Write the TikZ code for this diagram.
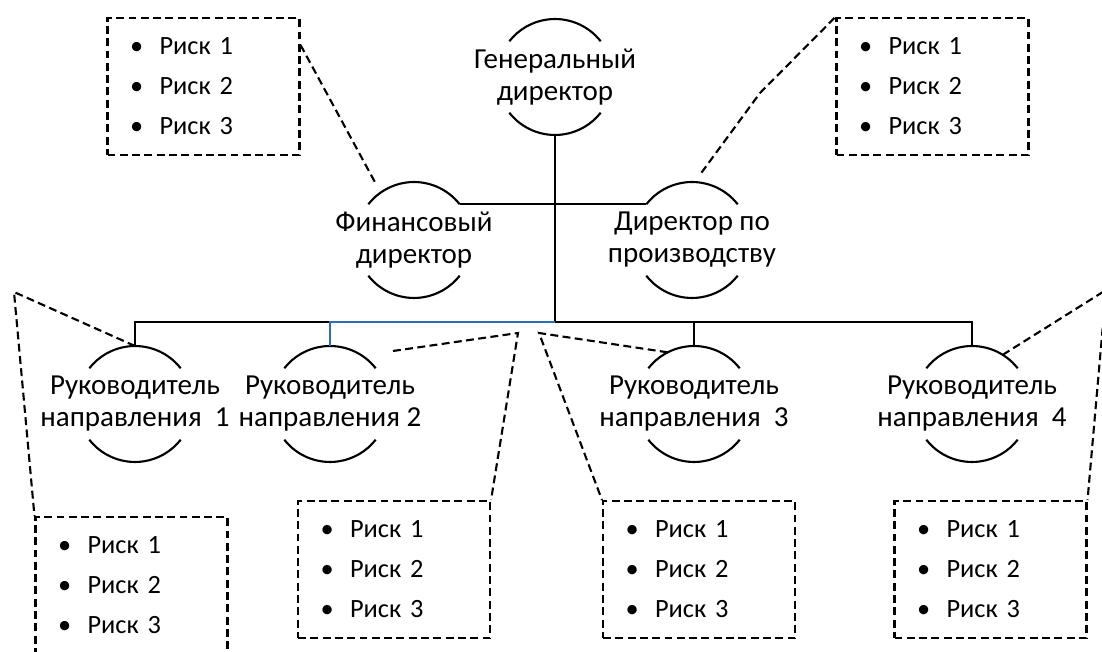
\documentclass[tikz,border=0pt]{standalone}
\usepackage{fontspec}
\setmainfont{Carlito}
\usepackage{xcolor}
\usepackage{tikz}
\usetikzlibrary{positioning, calc}

\definecolor{lineblue}{RGB}{46,109,180}
\newcommand{\riskitem}[1]{\makebox[0.59cm][l]{\textbullet}Риск #1}
\newcommand{\rlist}{\riskitem{1}\\\riskitem{2}\\\riskitem{3}}

\begin{document}
\begin{tikzpicture}[
    x=0.02cm, y=0.02cm,
    post/.style={circle, minimum size=2.32cm, inner sep=0pt, outer sep=0pt, label={[postname]center:#1}},
    postname/.style={align=center, inner sep=0pt, font=\fontsize{16.5}{18.2}\selectfont},
    riskbox/.style={rectangle, draw=black, line width=1.2pt, dash pattern=on 4.5pt off 2.5pt, minimum width=3.84cm, minimum height=2.74cm, text width=2.94cm, inner xsep=0.45cm, inner ysep=0pt, align=left, font=\fontsize{15}{22.8}\selectfont},
    arcline/.style={draw=black, line width=1.2pt},
    line/.style={draw=black, line width=1.2pt},
    blueline/.style={draw=lineblue, line width=1.2pt},
    callout/.style={draw=black, line width=1.2pt, dash pattern=on 4.5pt off 2.5pt}
]
\useasboundingbox (0,0) rectangle (1102,652);
\clip (0,0) rectangle (1102,652);

% posts
\node[post={Генеральный\\директор}] (gen) at (555,575) {};
\node[post={Финансовый\\директор}] (fin) at (414,412) {};
\node[post={Директор по\\производству}] (prod) at (692,412) {};
\node[post={Руководитель\\направления\ \ 1}] (r1) at (135,248) {};
\node[post={Руководитель\\направления 2}] (r2) at (330,248) {};
\node[post={Руководитель\\направления\ \ 3}] (r3) at (694,248) {};
\node[post={Руководитель\\направления\ \ 4}] (r4) at (972,248) {};

\foreach \n in {gen,fin,prod,r1,r2,r3,r4} {
    \draw[arcline] (\n.38) arc[start angle=38, end angle=142, radius=1.16cm];
    \draw[arcline] (\n.218) arc[start angle=218, end angle=322, radius=1.16cm];
}

% risk lists
\node[riskbox] (tb1) at (203.5,565.5) {\rlist};
\node[riskbox] (tb2) at (932.5,565.5) {\rlist};
\node[riskbox] (rb1) at (131.5,66.5) {\rlist};
\node[riskbox] (rb2) at (394,82.5) {\rlist};
\node[riskbox] (rb3) at (699,82.5) {\rlist};
\node[riskbox] (rb4) at (990.5,82.5) {\rlist};

% tree lines
\coordinate (bus) at (gen.south |- 0,330);
\draw[line] (gen.south) -- (bus);
\draw[line] (fin.38) -- (fin.38 -| bus);
\draw[line] (prod.142) -- (prod.142 -| bus);
\draw[line] (r1.north) |- (bus);
\draw[line] (r3.north) |- (bus);
\draw[line] (r4.north) |- (bus);
\draw[blueline] (r2.north) |- (bus);

% callouts
\coordinate (k0) at (760,559);
\coordinate (k1) at (14,360);
\coordinate (k2) at (518,319);
\coordinate (k3) at (539,319);
\coordinate (k4) at (1106,362);
\coordinate (e2) at (393,301);

\draw[callout] ([yshift=0.83cm]tb1.east) -- ([shift={(124:70)}]fin.center);
\draw[callout] ([shift={(82:68)}]prod.center) -- (k0) -- (tb2.north west);
\draw[callout] (r1.north) -- (k1) -- (rb1.north west);
\draw[callout] (e2) -- (k2) -- (rb2.north east);
\draw[callout] (r3.117) -- (k3) -- (rb3.north west);
\draw[callout] (r4.58) -- (k4) -- (rb4.north east);

\end{tikzpicture}
\end{document}
